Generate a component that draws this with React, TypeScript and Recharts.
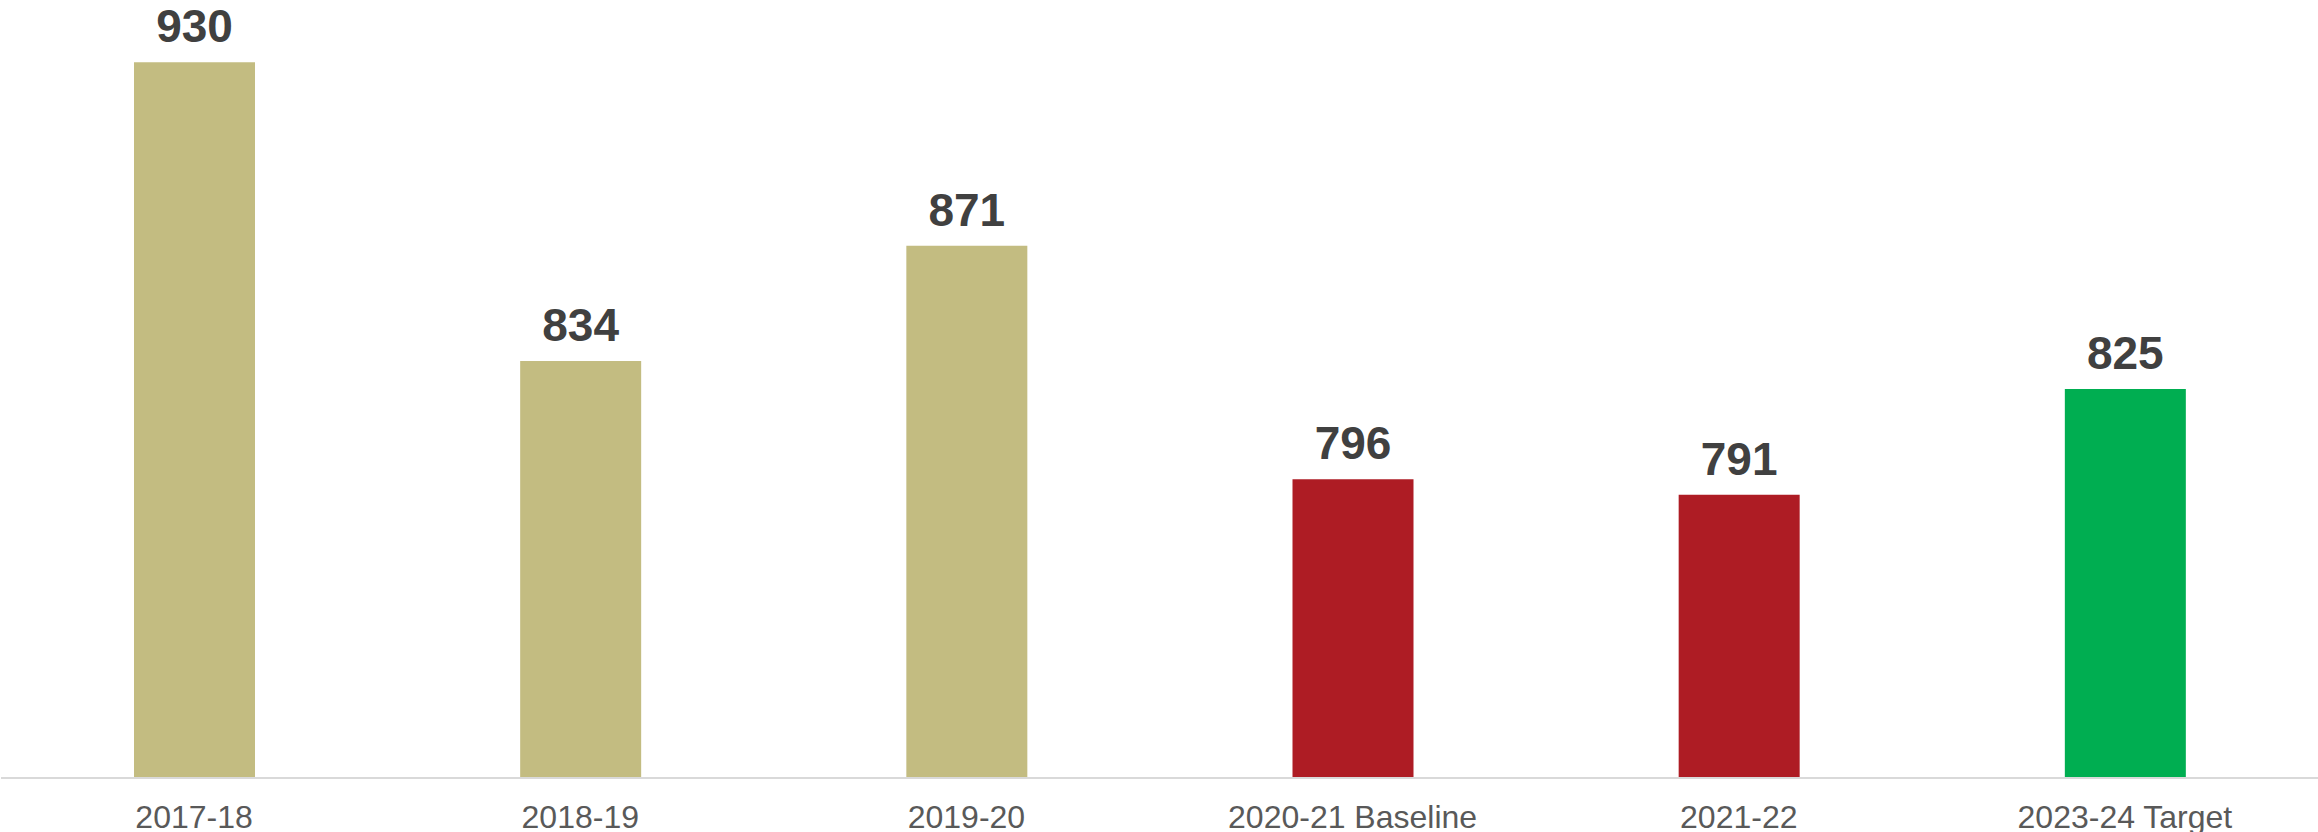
import { Bar, BarChart, Cell, LabelList, XAxis, YAxis } from "recharts";

const categories = ["2017-18", "2018-19", "2019-20", "2020-21 Baseline", "2021-22", "2023-24 Target"];
const values = [930, 834, 871, 796, 791, 825];

const BAR_COLORS = ["#c3bc81", "#c3bc81", "#c3bc81", "#ae1c24", "#ae1c24", "#00ae51"];
const FONT = "'Liberation Sans', Arial, sans-serif";

const data = categories.map((name, i) => ({ name, value: values[i] }));

export default function App() {
  return (
    <div style={{ position: "absolute", left: 0, top: 0, background: "#fff" }}>
      <BarChart
        width={2318}
        height={832}
        data={data}
        margin={{ top: 0, right: 0, bottom: 0, left: 1 }}
        barSize={121}
      >
        <XAxis
          dataKey="name"
          height={54}
          axisLine={{ stroke: "#d9d9d9", strokeWidth: 2 }}
          tickLine={false}
          tickSize={6}
          tickMargin={21}
          interval={0}
          tick={{ fill: "#595959", fontSize: 32, fontFamily: FONT }}
        />
        <YAxis hide domain={[700, 950]} />
        <Bar dataKey="value" isAnimationActive={false}>
          {data.map((d, i) => (
            <Cell key={d.name} fill={BAR_COLORS[i]} />
          ))}
          <LabelList
            dataKey="value"
            position="top"
            offset={20}
            fill="#404040"
            fontSize={46}
            fontWeight="bold"
            fontFamily={FONT}
          />
        </Bar>
      </BarChart>
    </div>
  );
}
